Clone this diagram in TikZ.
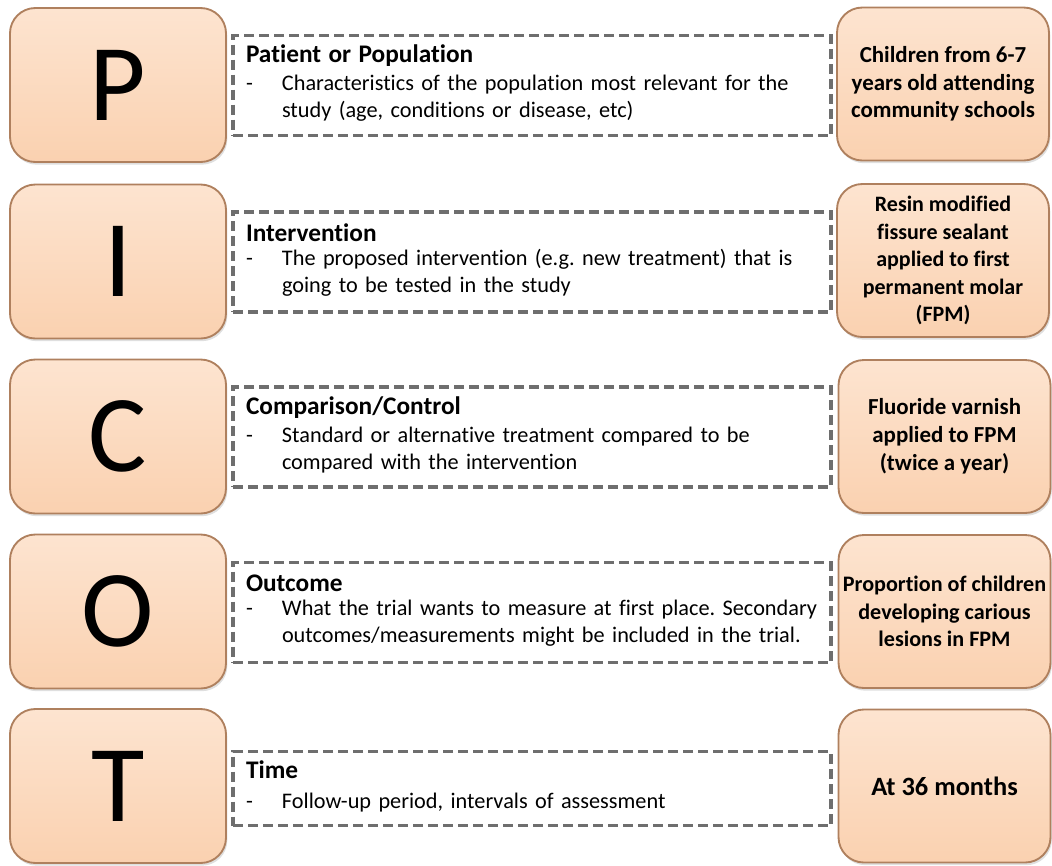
\documentclass[tikz,border=0pt]{standalone}
\usepackage{fontspec}
\setmainfont{Carlito}[Ligatures=NoCommon]
\usetikzlibrary{shadows}
\definecolor{peach}{HTML}{FAD1B0}
\definecolor{peachtop}{HTML}{FDE4D0}
\definecolor{peachedge}{HTML}{AF805E}
\definecolor{dashgray}{HTML}{6E6E6E}
\frenchspacing
\tikzset{
  letterbox/.style={rounded corners=19pt, draw=peachedge, line width=1.4pt,
    top color=peachtop, bottom color=peach, minimum width=216*0.75pt,
    minimum height=154*0.75pt, inner sep=0pt,
    drop shadow={opacity=0.25, shadow xshift=1pt, shadow yshift=-2pt},
    font=\fontsize{82}{82}\selectfont},
  answerbox/.style={rounded corners=19pt, draw=peachedge, line width=1.4pt,
    top color=peachtop, bottom color=peach, minimum width=212*0.75pt,
    minimum height=153*0.75pt, inner sep=0pt, align=center,
    drop shadow={opacity=0.25, shadow xshift=1pt, shadow yshift=-2pt},
    font=\fontsize{17.2}{20.6}\selectfont\bfseries},
  descbox/.style={draw=dashgray, line width=2.5pt, dash pattern=on 7.5pt off 3.75pt,
    minimum width=598*0.75pt, minimum height=100*0.75pt, text width=572*0.75pt,
    inner sep=0pt, align=left, font=\fontsize{16.7}{20.25}\selectfont}
}
\newcommand{\deschead}[1]{{\fontsize{19}{21}\selectfont\bfseries #1}\\[3pt]}
\newcommand{\desctext}[1]{\begin{tabular}{@{}p{27pt}@{}l@{}}#1\end{tabular}}
\begin{document}
\begin{tikzpicture}[x=0.75pt,y=0.75pt,yscale=-1,xscale=1]
\useasboundingbox (0,0) rectangle (1052,865);

%Row P
\node[letterbox] (P) at (118,85) {P};
\node[descbox] (Pdesc) at (532,85.5) {\deschead{Patient or Population}
  \desctext{- & Characteristics of the population most relevant for the\\ & study (age, conditions or disease, etc)}};
\node[answerbox] (Pans) at (943,84) {Children from 6-7\\ years old attending\\ community schools};

%Row I
\node[letterbox] (I) at (118,261.5) {I};
\node[descbox] (Idesc) at (532,262) {\deschead{Intervention}
  \desctext{- & The proposed intervention (e.g. new treatment) that is\\ & going to be tested in the study}};
\node[answerbox, font=\fontsize{16.5}{20.6}\selectfont\bfseries] (Ians) at (943,260.5)
  {Resin modified\\ fissure sealant\\ applied to first\\ permanent molar\\ (FPM)};

%Row C
\node[letterbox] (C) at (118,436.5) {C};
\node[descbox] (Cdesc) at (532,437) {\deschead{Comparison/Control}
  \desctext{- & Standard or alternative treatment compared to be\\ & compared with the intervention}};
\node[answerbox, font=\fontsize{17.2}{21}\selectfont\bfseries] (Cans) at (944.5,436.5)
  {Fluoride varnish\\ applied to FPM\\ (twice a year)};

%Row O
\node[letterbox] (O) at (118,611.5) {O};
\node[descbox] (Odesc) at (532,612.5) {\deschead{Outcome}
  \desctext{- & What the trial wants to measure at first place. Secondary\\ & outcomes/measurements might be included in the trial.}};
\node[answerbox, font=\fontsize{16.6}{20.6}\selectfont\bfseries] (Oans) at (944.5,611.5)
  {Proportion of children\\ developing carious\\ lesions in FPM};

%Row T
\node[letterbox] (T) at (118,786) {T};
\node[descbox, minimum height=74*0.75pt] (Tdesc) at (532,788.5) {\deschead{Time}
  \desctext{- & Follow-up period, intervals of assessment}};
\node[answerbox, font=\fontsize{19.8}{22}\selectfont\bfseries] (Tans) at (944.5,786) {At 36 months};

\end{tikzpicture}
\end{document}
